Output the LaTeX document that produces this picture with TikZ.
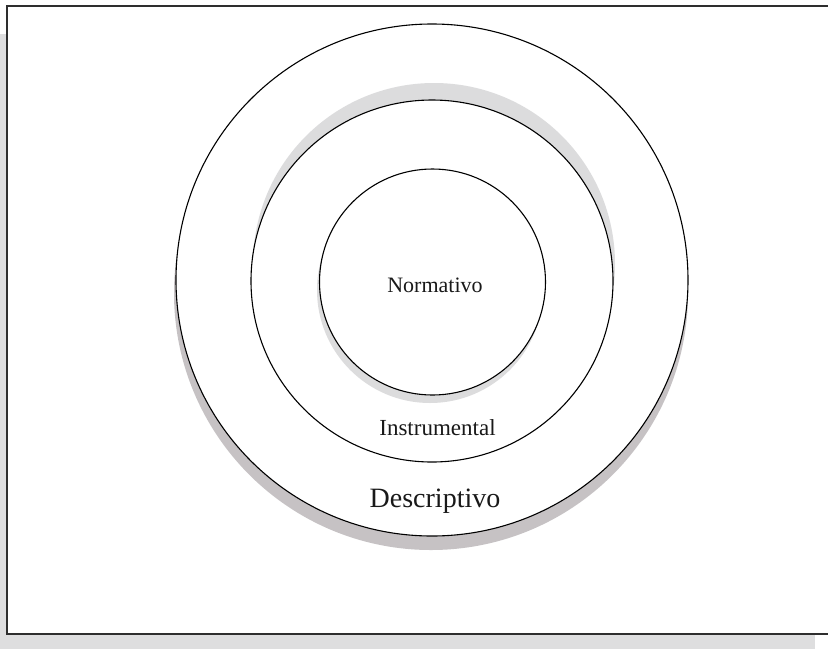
\documentclass[tikz,border=0pt]{standalone}
\usepackage{fontspec}
\setmainfont{Liberation Serif}
\definecolor{bggray}{HTML}{DEDEDF}
\definecolor{framegray}{HTML}{2E2E2E}
\definecolor{lightshade}{HTML}{DCDCDD}
\definecolor{darkshade}{HTML}{C6C2C4}
\begin{document}
\begin{tikzpicture}[x=1pt,y=-1pt,
  ring/.style={circle,draw=black,fill=white,line width=1.1pt,inner sep=0pt},
  shadow/.style={circle,inner sep=0pt,draw=none},
  label/.style={anchor=base,inner sep=0pt,text=black!90}]
\useasboundingbox (0,0) rectangle (828,649);
\fill[bggray] (0,34) rectangle (815,649);
\draw[fill=white,draw=framegray,line width=1.6pt] (7,6) rectangle (840,634);
% outer ring
\node[shadow,fill=darkshade,minimum size=514pt] (outershadow) at (431,293) {};
\node[ring,minimum size=512pt] (outer) at (432,280) {};
% middle ring
\node[shadow,fill=lightshade,minimum size=362pt] (midshadow) at (434,264) {};
\node[ring,minimum size=362pt] (middle) at (432,281) {};
% inner ring
\node[shadow,fill=lightshade,minimum size=226pt] (innershadow) at (430,290) {};
\node[ring,minimum size=226pt] (inner) at (432.5,282) {};
% labels
\node[label] (normativo) at (435,292) {\fontsize{22}{26}\selectfont Normativo};
\node[label] (instrumental) at (437.5,435) {\fontsize{23}{27}\selectfont Instrumental};
\node[label] (descriptivo) at (435,507) {\fontsize{28}{32}\selectfont Descriptivo};
\end{tikzpicture}
\end{document}
